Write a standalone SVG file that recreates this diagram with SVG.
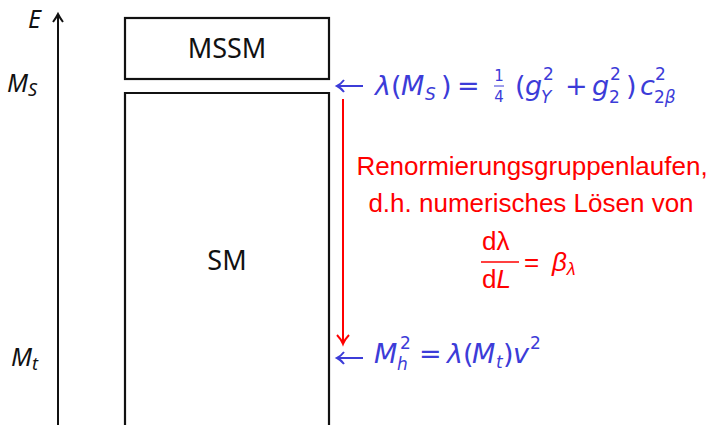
<svg xmlns="http://www.w3.org/2000/svg" width="712" height="425" viewBox="0 0 712 425">
<style>
.box{fill:#fff;stroke:#111;stroke-width:2.2}
.lbl{font-family:"Noto Sans","DejaVu Sans",sans-serif;font-size:27px;fill:#111}
.it{font-family:"Noto Sans","DejaVu Sans",sans-serif;font-style:italic;font-size:25px;fill:#111}
.b{font-family:"DejaVu Sans",sans-serif;font-size:27px;fill:#3c3cd8}
.bi{font-style:italic}
.bs{font-size:17px}
.bf{font-size:15px}
.r{font-family:"Liberation Sans",Arial,sans-serif;font-size:26px;fill:#ff0000}
.ax{stroke:#111;stroke-width:2;fill:none}
.barr{stroke:#3c3cd8;stroke-width:2;fill:none}
.rarr{stroke:#ff0000;stroke-width:2;fill:none}
</style>

<g id="axis">
  <line class="ax" x1="58" y1="425" x2="58" y2="15"/>
  <path class="ax" d="M53,22 Q56,18 58,14 Q60,18 63,22" stroke-width="1.6"/>
  <text class="it" x="28" y="28">E</text>
  <text class="it" x="7" y="92">M<tspan font-size="18" dy="4">S</tspan></text>
  <text class="it" x="11" y="366">M<tspan font-size="18" dy="4">t</tspan></text>
</g>

<g id="mssm">
  <rect class="box" x="125" y="18" width="204" height="61"/>
  <text class="lbl" x="227" y="58" text-anchor="middle">MSSM</text>
</g>

<g id="sm">
  <path class="box" d="M125,430 V93 H329 V430"/>
  <text class="lbl" x="227" y="270" text-anchor="middle">SM</text>
</g>

<g id="connectors">
  <line class="rarr" x1="343" y1="99" x2="343" y2="343"/>
  <path class="rarr" d="M337,335 Q341,339 343,344 Q345,339 349,335" stroke-width="1.6"/>
  <line class="barr" x1="337" y1="86" x2="363" y2="86"/>
  <path class="barr" d="M344,80 Q341,84 337,86 Q341,88 344,92" stroke-width="1.6"/>
  <line class="barr" x1="337" y1="358" x2="363" y2="358"/>
  <path class="barr" d="M344,352 Q341,356 337,358 Q341,360 344,364" stroke-width="1.6"/>
</g>

<g id="eq-top">
  <text class="b bi" x="375" y="95">λ</text>
  <text class="b" x="391" y="95">(</text>
  <text class="b bi" x="401" y="95">M</text>
  <text class="b bi bs" x="425" y="100">S</text>
  <text class="b" x="441" y="95">)</text>
  <text class="b" x="457" y="95">=</text>
  <text class="b bf" x="499" y="81" text-anchor="middle">1</text>
  <line x1="494" y1="86" x2="504" y2="86" stroke="#3c3cd8" stroke-width="1"/>
  <text class="b bf" x="499" y="102" text-anchor="middle">4</text>
  <text class="b" x="515" y="95">(</text>
  <text class="b bi" x="525" y="95">g</text>
  <text class="b bs" x="543" y="80">2</text>
  <text class="b bi bs" x="541" y="103">Y</text>
  <text class="b" x="565" y="95">+</text>
  <text class="b bi" x="592" y="95">g</text>
  <text class="b bs" x="610" y="80">2</text>
  <text class="b bs" x="609" y="103">2</text>
  <text class="b" x="626" y="95">)</text>
  <text class="b bi" x="640" y="95">c</text>
  <text class="b bs" x="655" y="80">2</text>
  <text class="b bs" x="654" y="103">2<tspan class="bi">β</tspan></text>
</g>

<g id="eq-bottom">
  <text class="b bi" x="374" y="363">M</text>
  <text class="b bs" x="400" y="349">2</text>
  <text class="b bi bs" x="397" y="370">h</text>
  <text class="b" x="419" y="363">=</text>
  <text class="b bi" x="447" y="363">λ</text>
  <text class="b" x="463" y="363">(</text>
  <text class="b bi" x="472" y="363">M</text>
  <text class="b bi bs" x="496" y="368">t</text>
  <text class="b" x="503" y="363">)</text>
  <text class="b bi" x="513" y="363">v</text>
  <text class="b bs" x="530" y="349">2</text>
</g>

<g id="rg-text">
  <text class="r" x="532" y="175" text-anchor="middle">Renormierungsgruppenlaufen,</text>
  <text class="r" x="531" y="212" text-anchor="middle">d.h. numerisches Lösen von</text>
  <text class="r" x="482" y="250">dλ</text>
  <line x1="481" y1="262" x2="519" y2="262" stroke="#ff0000" stroke-width="1.5"/>
  <text class="r" x="482" y="288">d<tspan font-style="italic">L</tspan></text>
  <text class="r" x="524" y="271">=</text>
  <text class="r" x="552" y="271" fill="#ff3a3a" font-style="italic" font-size="27">β<tspan font-size="18" dy="4">λ</tspan></text>
</g>
</svg>
